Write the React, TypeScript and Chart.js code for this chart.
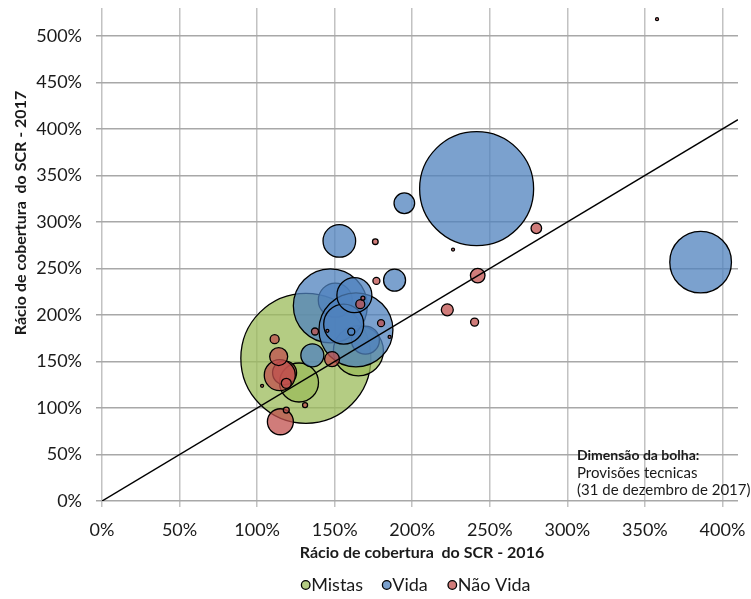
import React, { useEffect, useRef } from 'react';
import { Chart, registerables } from 'chart.js';

Chart.register(...registerables);

// ---- Data ----
const seriesNames = ['Mistas', 'Vida', 'Não Vida'];

// Rácio de cobertura do SCR 2016 (x), 2017 (y), provisões técnicas (relative size)
const mistasX = [1.314, 1.653, 1.270];
const mistasY = [1.534, 1.615, 1.274];
const mistasSize = [100, 14.8, 9.0];

const vidaX = [1.504, 1.698, 2.415, 1.472, 1.637, 3.859, 1.558, 1.627, 1.530, 1.356, 1.886, 1.949, 1.607];
const vidaY = [2.159, 1.729, 3.358, 2.098, 1.840, 2.568, 1.901, 2.213, 2.796, 1.566, 2.374, 3.201, 1.820];
const vidaSize = [6.84, 4.64, 76.9, 32.4, 32.4, 22.5, 9.47, 7.25, 6.29, 3.13, 2.86, 2.51, 0.29];

const naoVidaX = [1.177, 1.146, 1.150, 1.139, 1.483, 2.422, 2.226, 2.800, 1.188, 1.113, 1.665, 2.402, 1.769, 1.799, 1.373, 1.762, 1.188, 1.309, 1.682, 2.263, 3.578, 1.032, 1.453, 1.854];
const naoVidaY = [1.378, 1.353, 0.852, 1.553, 1.525, 2.423, 2.055, 2.932, 1.265, 1.740, 2.116, 1.923, 2.366, 1.912, 1.822, 2.788, 0.977, 1.031, 2.180, 2.703, 5.180, 1.238, 1.829, 1.764];
const naoVidaSize = [3.41, 5.69, 4.0, 1.92, 1.33, 1.26, 0.85, 0.66, 0.59, 0.48, 0.48, 0.38, 0.29, 0.29, 0.29, 0.19, 0.21, 0.15, 0.095, 0.053, 0.053, 0.053, 0.053, 0.053];

const diagonalX = [0, 4.1];
const diagonalY = [0, 4.1];

const xTickValues = [0, 0.5, 1, 1.5, 2, 2.5, 3, 3.5, 4];
const yTickValues = [0, 0.5, 1, 1.5, 2, 2.5, 3, 3.5, 4, 4.5, 5];
const xMax = 4.1;
const yMax = 5.3;

const xTitle = 'Rácio de cobertura  do SCR - 2016';
const yTitle = 'Rácio de cobertura  do SCR - 2017';
const noteTitle = 'Dimensão da bolha:';
const noteLines = ['Provisões tecnicas', '(31 de dezembro de 2017)'];

// ---- Styles ----
const FILLS = ['rgba(155,187,89,0.75)', 'rgba(79,129,189,0.75)', 'rgba(192,80,77,0.75)'];
const TEXT = '#1a1a1a';
const FONT = 'Lato, "Open Sans", sans-serif';
const MAX_R = 65;

const toPoints = (xs: number[], ys: number[], ss: number[]) =>
  xs.map((x, i) => ({ x, y: ys[i], r: MAX_R * Math.sqrt(ss[i] / 100) }));

const setTicks = (values: number[]) => (scale: any) => {
  scale.ticks = values.map((value) => ({ value }));
};

const pct = (v: any) => Math.round(Number(v) * 100) + '%';

const decorPlugin = {
  id: 'decor',
  afterDraw(chart: any) {
    const { ctx, chartArea } = chart;
    ctx.save();
    ctx.fillStyle = TEXT;
    // x axis title
    ctx.font = `bold 16px ${FONT}`;
    ctx.textAlign = 'center';
    ctx.textBaseline = 'middle';
    ctx.fillText(xTitle, (chartArea.left + chartArea.right) / 2 + 2, 553);
    // y axis title
    ctx.save();
    ctx.translate(21, 213);
    ctx.rotate(-Math.PI / 2);
    ctx.fillText(yTitle, 0, 0);
    ctx.restore();
    // note
    ctx.textAlign = 'left';
    ctx.font = `bold 14px ${FONT}`;
    ctx.fillText(noteTitle, 577, 455);
    ctx.font = `15px ${FONT}`;
    noteLines.forEach((l, i) => ctx.fillText(l, 577, 473 + i * 17.5));
    // legend
    const markerX = [305.7, 386.7, 452.3];
    const ly = 585;
    ctx.font = `18px ${FONT}`;
    chart.data.datasets.slice(0, 3).forEach((ds: any, i: number) => {
      ctx.beginPath();
      ctx.arc(markerX[i], ly, 4.3, 0, Math.PI * 2);
      ctx.fillStyle = ds.backgroundColor;
      ctx.fill();
      ctx.lineWidth = 1.3;
      ctx.strokeStyle = '#000';
      ctx.stroke();
      ctx.fillStyle = TEXT;
      ctx.fillText(ds.label, markerX[i] + 5.5, ly);
    });
    ctx.restore();
  },
};

export default function App() {
  const ref = useRef<HTMLCanvasElement | null>(null);
  useEffect(() => {
    if (!ref.current) return;
    Chart.defaults.font.family = FONT;
    Chart.defaults.color = TEXT;
    const bubbleDs = (i: number, pts: any[]) => ({
      type: 'bubble' as const,
      label: seriesNames[i],
      data: pts,
      backgroundColor: FILLS[i],
      borderColor: '#000',
      borderWidth: 1.3,
      hoverRadius: 0,
      order: 3 - i,
    });
    const chart = new Chart(ref.current, {
      type: 'bubble',
      data: {
        datasets: [
          bubbleDs(0, toPoints(mistasX, mistasY, mistasSize)),
          bubbleDs(1, toPoints(vidaX, vidaY, vidaSize)),
          bubbleDs(2, toPoints(naoVidaX, naoVidaY, naoVidaSize)),
          {
            type: 'line' as const,
            label: 'diagonal',
            data: diagonalX.map((x, i) => ({ x, y: diagonalY[i] })),
            borderColor: '#000',
            borderWidth: 1.5,
            pointRadius: 0,
            fill: false,
            order: -1,
          } as any,
        ],
      },
      options: {
        animation: false,
        responsive: false,
        events: [],
        layout: { autoPadding: false, padding: { left: 0, top: 8, right: 13, bottom: 0 } },
        plugins: { legend: { display: false }, tooltip: { enabled: false } },
        scales: {
          x: {
            type: 'linear',
            min: 0,
            max: xMax,
            border: { display: false },
            grid: { color: '#c2c2c2', lineWidth: 1.5, tickLength: 6 },
            ticks: { callback: pct, font: { size: 18 }, padding: 12, color: TEXT, maxRotation: 0, autoSkip: false },
            afterBuildTicks: setTicks(xTickValues),
            afterFit: (s: any) => {
              s.height = 98;
              s.paddingLeft = 0;
              s.paddingRight = 0;
            },
          },
          y: {
            type: 'linear',
            min: 0,
            max: yMax,
            border: { display: false },
            grid: { color: '#a8a8a8', lineWidth: 1.5, tickLength: 6 },
            ticks: { callback: pct, font: { size: 18 }, padding: 14, color: TEXT, autoSkip: false },
            afterBuildTicks: setTicks(yTickValues),
            afterFit: (s: any) => {
              s.width = 102;
              s.paddingTop = 0;
              s.paddingBottom = 0;
            },
          },
        },
      },
      plugins: [decorPlugin],
    } as any);
    return () => chart.destroy();
  }, []);
  return (
    <div style={{ position: 'fixed', left: 0, top: 0, width: 751, height: 599, background: '#fff' }}>
      <canvas ref={ref} width={751} height={599} />
    </div>
  );
}
